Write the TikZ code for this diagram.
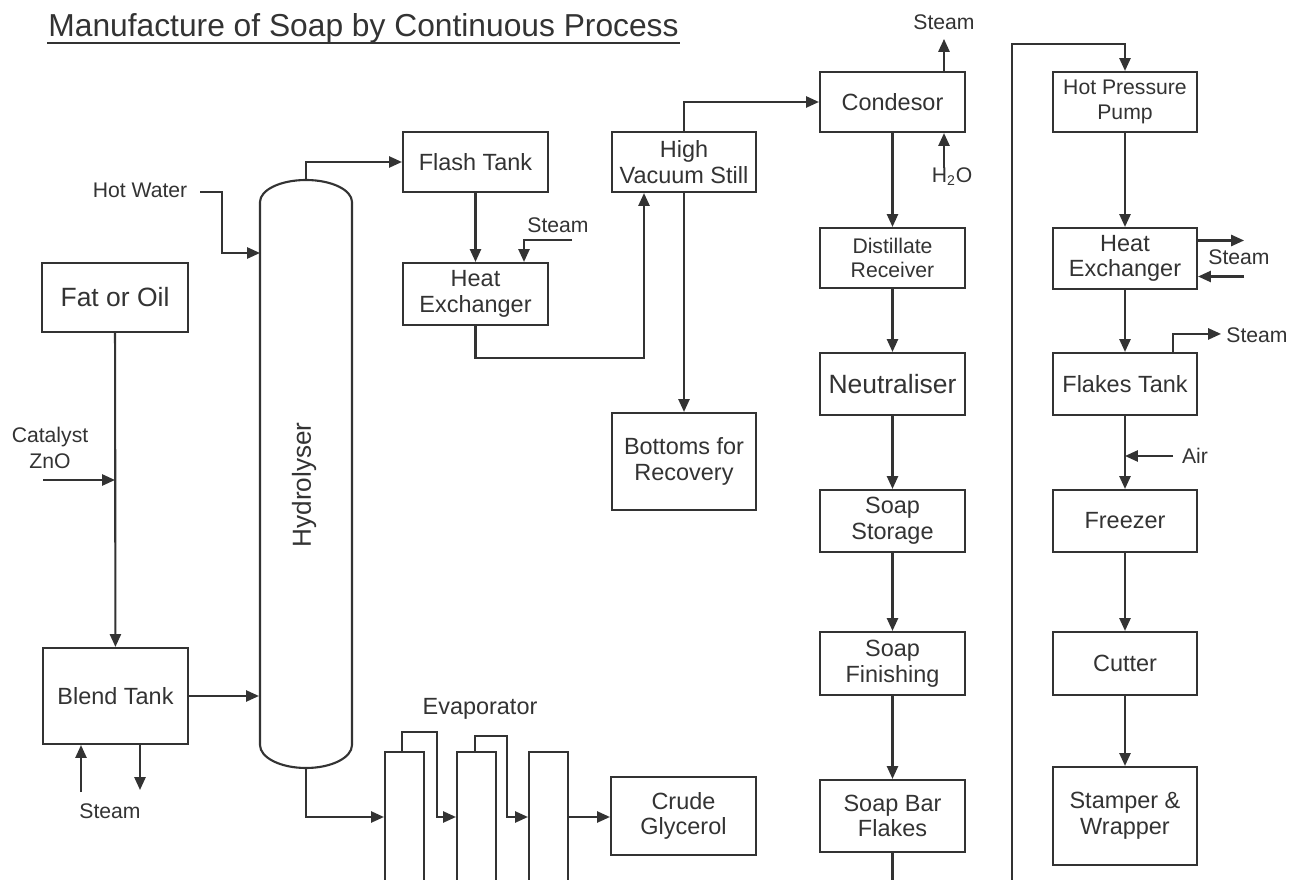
\documentclass[tikz,border=0pt]{standalone}
\usepackage{fontspec}
\setmainfont{Liberation Sans}
\usetikzlibrary{arrows.meta,fit,calc}
\definecolor{ink}{HTML}{333333}
\begin{document}
\begin{tikzpicture}[x=0.5669pt,y=0.5669pt,
  line width=1.2pt, color=ink,
  arr/.style={-{Triangle[length=7.3pt,width=6.3pt]}},
  pbox/.style n args={4}{minimum width={(#3-#1)*0.5669pt}, minimum height={(#4-#2)*0.5669pt},
      at={({(#1+#3)/2},{-(#2+#4)/2})}},
  box/.style={draw, inner sep=0pt, align=center, font=\fontsize{13.3}{14.5}\selectfont},
  bigbox/.style={box, font=\fontsize{15}{17}\selectfont},
  smallbox/.style={box, font=\fontsize{12}{14}\selectfont},
  lbl/.style={font=\fontsize{12}{15}\selectfont, inner sep=0pt, align=center},
  evap/.style={draw, inner sep=0pt},
]
\useasboundingbox (0,0) rectangle (1289,-880);
\clip (0,0) rectangle (1289,-880);
\fill[white] (0,0) rectangle (1289,-880);

% title
\node[anchor=base, inner sep=0pt, font=\fontsize{18}{20}\selectfont] (title) at (363.5,-37) {Manufacture of Soap by Continuous Process};
\draw[line width=1.3pt] (title.south west |- 0,-43) -- (title.south east |- 0,-43);

% boxes
\node[bigbox, pbox={42}{263}{188}{332}] (fat) {Fat or Oil};
\node[box, pbox={43}{648}{188}{744}] (blend) {Blend Tank};
\node[inner sep=0pt, fit={(260,-180)(352,-768)}] (hyd) {};
\draw (260,-745) -- (260,-202) arc[start angle=180, end angle=0, x radius=46, y radius=22]
      -- (352,-745) arc[start angle=0, end angle=-180, x radius=46, y radius=23] -- cycle;
\node[rotate=90, inner sep=0pt, font=\fontsize{14.8}{16}\selectfont] (hydl) at (304,-485) {Hydrolyser};

\node[box, pbox={403}{132}{548}{192}] (flash) {Flash Tank};
\node[box, pbox={403}{263}{548}{325}] (hx1) {Heat\\Exchanger};
\node[box, pbox={612}{132}{756}{192}] (hvs) {High\\Vacuum Still};
\node[box, pbox={612}{413}{756}{510}] (bot) {Bottoms for\\Recovery};
\node[box, pbox={611}{777}{756}{855}] (crude) {Crude\\Glycerol};

\node[box, pbox={820}{72}{965}{132}] (cond) {Condesor};
\node[smallbox, pbox={820}{228}{965}{288}] (dist) {Distillate\\Receiver};
\node[bigbox, pbox={820}{353}{965}{415}] (neut) {Neutraliser};
\node[box, pbox={820}{490}{965}{552}] (store) {Soap\\Storage};
\node[box, pbox={820}{632}{965}{695}] (finish) {Soap\\Finishing};
\node[box, pbox={820}{780}{965}{852}] (sbf) {Soap Bar\\Flakes};

\node[smallbox, pbox={1053}{72}{1197}{132}] (hpp) {Hot Pressure\\Pump};
\node[box, pbox={1053}{228}{1197}{289}] (hx2) {Heat\\Exchanger};
\node[box, pbox={1053}{353}{1197}{415}] (flakes) {Flakes Tank};
\node[box, pbox={1053}{490}{1197}{552}] (freezer) {Freezer};
\node[box, pbox={1053}{632}{1197}{695}] (cutter) {Cutter};
\node[box, pbox={1053}{767}{1197}{865}] (stamp) {Stamper \&\\Wrapper};

% evaporators
\node[evap, fit={(385,-752)(424,-900)}] (ev1) {};
\node[evap, fit={(457,-752)(496,-900)}] (ev2) {};
\node[evap, fit={(529,-752)(568,-900)}] (ev3) {};
\node[inner sep=0pt, font=\fontsize{13.3}{15}\selectfont] (evl) at (480,-709) {Evaporator};

% labels
\node[lbl] (hwl) at (140,-190) {Hot Water};
\node[lbl] (catl) at (50,-448) {Catalyst\\ZnO};
\node[lbl] (bsl) at (110,-811) {Steam};
\node[lbl] (s1l) at (558,-225) {Steam};
\node[lbl] (csl) at (944,-22) {Steam};
\node[lbl] (h2ol) at (952,-177) {H\textsubscript{2}O};
\node[lbl] (s2l) at (1239,-257) {Steam};
\node[lbl] (s3l) at (1257,-335) {Steam};
\node[lbl] (airl) at (1195,-456) {Air};

% coordinates
\coordinate (catin) at (43,-480);
\coordinate (bsin) at (81,-792);
\coordinate (bsout) at (140,-790);
\coordinate (hw) at (200,-192);
\coordinate (hwin) at (260,-253);
\coordinate (s1) at (572,-240);
\coordinate (c524) at (524,0);
\coordinate (c644) at (644,0);
\coordinate (c944) at (944,0);
\coordinate (h2o) at (944,-168);
\coordinate (evy) at (0,-817);
\coordinate (loopb) at (1012,-900);
\coordinate (loopt) at (1012,-44);
\coordinate (air) at (1173,-456);

% left connectors
\draw[arr] (fat) -- (blend);
\draw[arr] (catin) -- (catin -| fat.south);
\draw[arr] (blend) -- (blend -| hyd.west);
\draw[arr] (bsin) -- (bsin |- blend.south);
\draw[arr] (bsout |- blend.south) -- (bsout);
\draw[arr] (hw) -- ++(22,0) |- (hwin);

% middle connectors
\draw[arr] (hyd.north) |- (flash.west);
\draw[arr] (flash) -- (hx1);
\draw[arr] (s1) -| (c524 |- hx1.north);
\draw[arr] (hx1.south) -- ++(0,-32) -| (c644 |- hvs.south);
\draw[arr] (hvs.north) |- (cond.west);
\draw[arr] (hvs) -- (bot);

% evaporator train
\draw[arr] (hyd.south) |- (ev1.west |- evy);
\draw[arr] ($(ev1.north west)+(18,0)$) -- ++(0,19) -- ++(35,0) |- (ev2.west |- evy);
\draw[arr] ($(ev2.north west)+(19,0)$) -- ++(0,15) -- ++(32,0) |- (ev3.west |- evy);
\draw[arr] (ev3.east |- evy) -- (crude.west |- evy);

% condenser column
\draw[arr] (c944 |- cond.north) -- ++(0,32);
\draw[arr] (h2o) -- (h2o |- cond.south);
\draw[arr] (cond) -- (dist);
\draw[arr] (dist) -- (neut);
\draw[arr] (neut) -- (store);
\draw[arr] (store) -- (finish);
\draw[arr] (finish) -- (sbf);
\draw[arr] (sbf.south) |- (loopb) -- (loopt) -| (hpp.north);

% right column
\draw[arr] (hpp) -- (hx2);
\draw[arr] ($(hx2.east)+(0,18)$) -- ++(46,0);
\draw[arr] ($(hx2.east)+(46,-18)$) -- ($(hx2.east)+(0,-18)$);
\draw[arr] (hx2) -- (flakes);
\draw[arr] ($(flakes.north east)+(-25,0)$) -- ++(0,18) -- ++(48,0);
\draw[arr] (flakes) -- (freezer);
\draw[arr] (air) -- (air -| flakes.south);
\draw[arr] (freezer) -- (cutter);
\draw[arr] (cutter) -- (stamp);
\end{tikzpicture}
\end{document}
